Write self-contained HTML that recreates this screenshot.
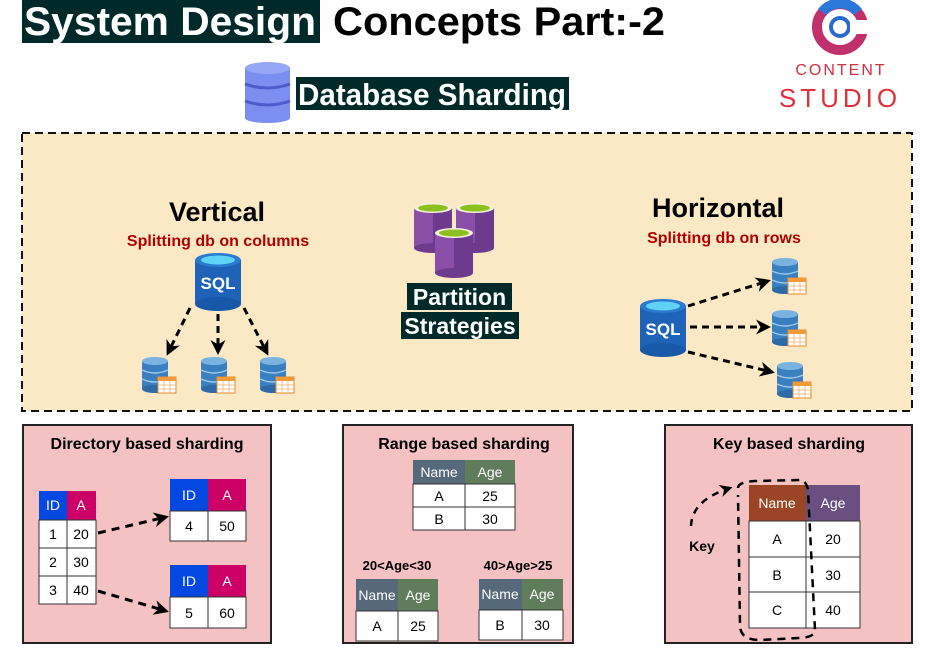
<!DOCTYPE html>
<html><head><meta charset="utf-8"><style>
html,body{margin:0;padding:0;background:#fff;}
svg{display:block;font-family:"Liberation Sans",Arial,sans-serif;}
</style></head><body>
<svg width="932" height="650" viewBox="0 0 932 650" xmlns="http://www.w3.org/2000/svg">
<defs>
<marker id="ah" viewBox="0 0 10 10" refX="8" refY="5" markerWidth="5" markerHeight="5" orient="auto"><path d="M0,0 L10,5 L0,10 L3,5 z" fill="#000"/></marker>
<g id="sdb">
 <rect x="0" y="4" width="26" height="28" fill="#3a7fc0"/>
 <ellipse cx="13" cy="32" rx="13" ry="4" fill="#2d6aa6"/>
 <ellipse cx="13" cy="4" rx="13" ry="4" fill="#7ab3e0"/>
 <path d="M0,13 q13,6 26,0 M0,22 q13,6 26,0" stroke="#9cc8ea" stroke-width="1.5" fill="none"/>
 <rect x="16" y="20" width="18" height="16" fill="#fff" stroke="#e88a2a"/>
 <rect x="16" y="20" width="18" height="4" fill="#f29a3a"/>
 <path d="M22,24 v12 M28,24 v12 M16,28 h18 M16,32 h18" stroke="#f0b070" stroke-width="0.8"/>
</g>
<g id="sql">
 <rect x="0" y="8" width="46" height="44" fill="#1e63b8"/>
 <ellipse cx="23" cy="52" rx="23" ry="7" fill="#1858a8"/>
 <ellipse cx="23" cy="8" rx="23" ry="7" fill="#2a7ad0"/>
 <ellipse cx="23" cy="8" rx="17" ry="4.5" fill="#5fd3f5"/>
 <text x="23" y="37" font-size="17" font-weight="bold" fill="#fff" text-anchor="middle">SQL</text>
</g>
<g id="pcyl">
 <rect x="0" y="5" width="38" height="40" fill="#8a4fa8"/>
 <rect x="19" y="5" width="19" height="40" fill="#6e3a8e"/>
 <ellipse cx="19" cy="45" rx="19" ry="5" fill="#6e3a8e"/>
 <ellipse cx="19" cy="5" rx="19" ry="5" fill="#f4f0d8"/>
 <ellipse cx="19" cy="5" rx="15" ry="3.5" fill="#8cc020"/>
</g>
</defs>

<!-- Title -->
<rect x="22" y="0" width="298" height="43" fill="#002a2a"/>
<text x="24" y="35" font-size="40" font-weight="bold" fill="#fff" textLength="292" lengthAdjust="spacingAndGlyphs">System Design</text>
<text x="333" y="35" font-size="40" font-weight="bold" fill="#000" textLength="332" lengthAdjust="spacingAndGlyphs">Concepts Part:-2</text>

<!-- DB icon -->
<g>
 <rect x="245" y="68" width="45" height="50" fill="#7b8ff0"/>
 <ellipse cx="267.5" cy="118" rx="22.5" ry="5" fill="#7b8ff0"/>
 <ellipse cx="267.5" cy="68" rx="22.5" ry="6" fill="#96a6f6"/>
 <path d="M245,84 q22.5,8 45,0 M245,101 q22.5,8 45,0" stroke="#4c5cc8" stroke-width="3" fill="none"/>
</g>
<rect x="296" y="77" width="273" height="33" fill="#002a2a"/>
<text x="298" y="105" font-size="31" font-weight="bold" fill="#fff" textLength="268" lengthAdjust="spacingAndGlyphs">Database Sharding</text>

<!-- Logo -->
<circle cx="840" cy="27" r="23" fill="none" stroke="#c0306a" stroke-width="10"/>
<path d="M822,12 A23,23 0 0 1 858,12" stroke="#2a78d8" stroke-width="10" fill="none"/>
<circle cx="840" cy="27" r="9" fill="none" stroke="#2a6ad0" stroke-width="4"/>
<rect x="850" y="20" width="20" height="14" fill="#fff"/>
<text x="841" y="75" font-size="16" fill="#d03040" text-anchor="middle" letter-spacing="2">CONTENT</text>
<text x="840" y="107" font-size="26" fill="#e0303a" text-anchor="middle" letter-spacing="4">STUDIO</text>

<!-- Dashed area -->
<rect x="22" y="133" width="890" height="278" fill="#fbe9c6" stroke="#111" stroke-width="2" stroke-dasharray="8,5"/>

<text x="217" y="221" font-size="27" font-weight="bold" text-anchor="middle">Vertical</text>
<text x="218" y="246" font-size="16" font-weight="bold" fill="#b00000" text-anchor="middle">Splitting db on columns</text>
<use href="#sql" x="195" y="252"/>
<g stroke="#000" stroke-width="3" stroke-dasharray="7,5" fill="none" marker-end="url(#ah)">
 <line x1="190" y1="308" x2="168" y2="353"/>
 <line x1="218" y1="314" x2="218" y2="352"/>
 <line x1="244" y1="308" x2="267" y2="353"/>
</g>
<use href="#sdb" x="142" y="357"/>
<use href="#sdb" x="201" y="357"/>
<use href="#sdb" x="260" y="357"/>

<use href="#pcyl" x="414" y="203"/>
<use href="#pcyl" x="456" y="203"/>
<use href="#pcyl" x="435" y="228"/>
<rect x="407" y="283" width="105" height="27" fill="#002a2a"/>
<text x="459.5" y="305" font-size="23" font-weight="bold" fill="#fff" text-anchor="middle">Partition</text>
<rect x="401" y="312" width="118" height="27" fill="#002a2a"/>
<text x="460" y="334" font-size="23" font-weight="bold" fill="#fff" text-anchor="middle">Strategies</text>

<text x="718" y="217" font-size="27" font-weight="bold" text-anchor="middle">Horizontal</text>
<text x="724" y="243" font-size="16" font-weight="bold" fill="#b00000" text-anchor="middle">Splitting db on rows</text>
<use href="#sql" x="640" y="298"/>
<g stroke="#000" stroke-width="3" stroke-dasharray="7,5" fill="none" marker-end="url(#ah)">
 <line x1="688" y1="306" x2="768" y2="281"/>
 <line x1="690" y1="327" x2="768" y2="327"/>
 <line x1="688" y1="352" x2="772" y2="372"/>
</g>
<use href="#sdb" x="772" y="258"/>
<use href="#sdb" x="772" y="310"/>
<use href="#sdb" x="777" y="362"/>

<!-- Bottom boxes -->
<g stroke="#222" stroke-width="2" fill="#f4c2c2">
 <rect x="23" y="425" width="248" height="218"/>
 <rect x="343" y="425" width="230" height="218"/>
 <rect x="665" y="425" width="247" height="218"/>
</g>
<g font-size="16" font-weight="bold" text-anchor="middle">
 <text x="147" y="449">Directory based sharding</text>
 <text x="464" y="449">Range based sharding</text>
 <text x="789" y="449">Key based sharding</text>
</g>

<!-- Directory tables -->
<g font-size="14" text-anchor="middle">
 <rect x="39" y="491" width="28" height="29" fill="#0348e0"/>
 <rect x="67" y="491" width="29" height="29" fill="#cc0066"/>
 <g fill="#fff" stroke="#333"><rect x="39" y="520" width="28" height="28"/><rect x="67" y="520" width="29" height="28"/><rect x="39" y="548" width="28" height="28"/><rect x="67" y="548" width="29" height="28"/><rect x="39" y="576" width="28" height="28"/><rect x="67" y="576" width="29" height="28"/></g>
 <text x="53" y="510" fill="#fff">ID</text><text x="81" y="510" fill="#fff">A</text>
 <text x="53" y="539">1</text><text x="81" y="539">20</text>
 <text x="53" y="567">2</text><text x="81" y="567">30</text>
 <text x="53" y="595">3</text><text x="81" y="595">40</text>

 <rect x="170" y="479" width="38" height="32" fill="#0348e0"/>
 <rect x="208" y="479" width="38" height="32" fill="#cc0066"/>
 <g fill="#fff" stroke="#333"><rect x="170" y="511" width="38" height="30"/><rect x="208" y="511" width="38" height="30"/></g>
 <text x="189" y="500" fill="#fff">ID</text><text x="227" y="500" fill="#fff">A</text>
 <text x="189" y="531">4</text><text x="227" y="531">50</text>

 <rect x="170" y="565" width="38" height="32" fill="#0348e0"/>
 <rect x="208" y="565" width="38" height="32" fill="#cc0066"/>
 <g fill="#fff" stroke="#333"><rect x="170" y="597" width="38" height="31"/><rect x="208" y="597" width="38" height="31"/></g>
 <text x="189" y="586" fill="#fff">ID</text><text x="227" y="586" fill="#fff">A</text>
 <text x="189" y="618">5</text><text x="227" y="618">60</text>
</g>
<g stroke="#000" stroke-width="3" stroke-dasharray="8,6" fill="none" marker-end="url(#ah)">
 <line x1="98" y1="533" x2="166" y2="517"/>
 <line x1="98" y1="591" x2="166" y2="611"/>
</g>

<!-- Range tables -->
<g font-size="14" text-anchor="middle">
 <rect x="413" y="460" width="52" height="24" fill="#56697a"/>
 <rect x="465" y="460" width="50" height="24" fill="#5f7d5b"/>
 <g fill="#fff" stroke="#333"><rect x="413" y="484" width="52" height="23"/><rect x="465" y="484" width="50" height="23"/><rect x="413" y="507" width="52" height="23"/><rect x="465" y="507" width="50" height="23"/></g>
 <text x="439" y="477" fill="#fff">Name</text><text x="490" y="477" fill="#fff">Age</text>
 <text x="439" y="501">A</text><text x="490" y="501">25</text>
 <text x="439" y="524">B</text><text x="490" y="524">30</text>

 <text x="397" y="570" font-size="13" font-weight="bold">20&lt;Age&lt;30</text>
 <text x="518" y="570" font-size="13" font-weight="bold">40&gt;Age&gt;25</text>

 <rect x="356" y="579" width="42" height="32" fill="#56697a"/>
 <rect x="398" y="579" width="40" height="32" fill="#5f7d5b"/>
 <g fill="#fff" stroke="#333"><rect x="356" y="611" width="42" height="30"/><rect x="398" y="611" width="40" height="30"/></g>
 <text x="377" y="600" fill="#fff">Name</text><text x="418" y="600" fill="#fff">Age</text>
 <text x="377" y="631">A</text><text x="418" y="631">25</text>

 <rect x="479" y="579" width="43" height="31" fill="#56697a"/>
 <rect x="522" y="579" width="41" height="31" fill="#5f7d5b"/>
 <g fill="#fff" stroke="#333"><rect x="479" y="610" width="43" height="30"/><rect x="522" y="610" width="41" height="30"/></g>
 <text x="500" y="599" fill="#fff">Name</text><text x="542" y="599" fill="#fff">Age</text>
 <text x="500" y="630">B</text><text x="542" y="630">30</text>
</g>

<!-- Key table -->
<g font-size="14" text-anchor="middle">
 <rect x="749" y="485" width="57" height="36" fill="#9a4526"/>
 <rect x="806" y="485" width="54" height="36" fill="#6a5080"/>
 <g fill="#fff" stroke="#333"><rect x="749" y="521" width="57" height="36"/><rect x="806" y="521" width="54" height="36"/><rect x="749" y="557" width="57" height="35"/><rect x="806" y="557" width="54" height="35"/><rect x="749" y="592" width="57" height="36"/><rect x="806" y="592" width="54" height="36"/></g>
 <text x="777" y="508" fill="#fff">Name</text><text x="833" y="508" fill="#fff">Age</text>
 <text x="777" y="544">A</text><text x="833" y="544">20</text>
 <text x="777" y="580">B</text><text x="833" y="580">30</text>
 <text x="777" y="615">C</text><text x="833" y="615">40</text>
 <text x="702" y="551" font-weight="bold">Key</text>
</g>
<path d="M738,488 Q738,482 755,481 L800,480 Q806,480 808,490 L815,630 Q815,637 800,638 L760,640 Q740,640 740,625 L738,495" fill="none" stroke="#000" stroke-width="2.5" stroke-dasharray="8,6"/>
<path d="M691,526 Q692,500 730,488" fill="none" stroke="#000" stroke-width="2.5" stroke-dasharray="7,6" marker-end="url(#ah)"/>
</svg>
</body></html>
